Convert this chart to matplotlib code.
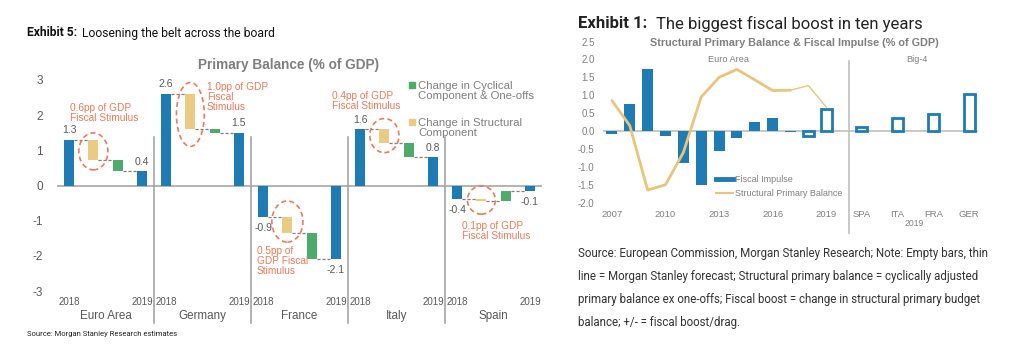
import matplotlib
matplotlib.use("Agg")
import matplotlib.pyplot as plt
from matplotlib.patches import Ellipse, Rectangle
from matplotlib.lines import Line2D

# ---------------- data: Exhibit 5 ----------------
groups = ["Euro Area", "Germany", "France", "Italy", "Spain"]
pb_2018 = [1.3, 2.6, -0.9, 1.6, -0.38]
structural_change = [-0.58, -1.0, -0.45, -0.4, -0.07]
cyclical_change = [-0.3, -0.1, -0.75, -0.4, 0.3]
pb_2019 = [0.4, 1.5, -2.1, 0.8, -0.15]
label_2018 = ["1.3", "2.6", "-0.9", "1.6", "-0.4"]
label_2019 = ["0.4", "1.5", "-2.1", "0.8", "-0.1"]
stimulus_text = ["0.6pp of GDP\nFiscal Stimulus", "1.0pp of GDP\nFiscal\nStimulus",
                 "0.5pp of\nGDP Fiscal\nStimulus", "0.4pp of GDP\nFiscal Stimulus",
                 "0.1pp of GDP\nFiscal Stimulus"]
left_yticks = [3, 2, 1, 0, -1, -2, -3]

# ---------------- data: Exhibit 1 ----------------
years = [2007, 2008, 2009, 2010, 2011, 2012, 2013, 2014, 2015, 2016, 2017, 2018, 2019]
fiscal_impulse = [-0.07, 0.75, 1.72, -0.15, -0.9, -1.5, -0.55, -0.2, 0.24, 0.35, -0.02, -0.13, 0.62]
forecast_year = [False] * 11 + [True, True]
structural_pb = [0.85, 0.15, -1.65, -1.5, -0.6, 0.95, 1.5, 1.72, 1.43, 1.13, 1.14, 1.27, 0.67]
countries = ["SPA", "ITA", "FRA", "GER"]
country_impulse = [0.12, 0.37, 0.47, 1.02]
year_ticks = [2007, 2010, 2013, 2016, 2019]
right_yticks = [2.5, 2.0, 1.5, 1.0, 0.5, 0.0, -0.5, -1.0, -1.5, -2.0]

BLUE = "#1f7bb3"
YELLOW = "#e9cb84"
GREEN = "#4dac6c"
ORANGE = "#ef7a58"
GREY = "#7f7f7f"
DGREY = "#595959"
LINEY = "#e8c57a"
ARIAL = "Liberation Sans"
ROBOTO = "Roboto"

W, H = 1032, 360
fig = plt.figure(figsize=(W / 100, H / 100), dpi=100)
fig.patch.set_facecolor("white")


def fx(x):
    return x / W


def fy(y):
    return 1 - y / H


def title_pair(x, y, bold_txt, reg_txt, size, gap_px, color):
    t1 = fig.text(fx(x), fy(y), bold_txt, ha="left", va="center", fontsize=size,
                  fontweight="bold", color=color, family=ROBOTO)
    r = fig.canvas.get_renderer()
    bb = t1.get_window_extent(renderer=r)
    fig.text(fx(bb.x1 + gap_px), fy(y), reg_txt, ha="left", va="center", fontsize=size,
             color=color, family=ROBOTO)


# ================= LEFT: Exhibit 5 =================
L0, L1, T0, T1 = 57, 542, 80, 291
axL = fig.add_axes([fx(L0), fy(T1), (L1 - L0) / W, (T1 - T0) / H])
axL.set_xlim(0, 20)
axL.set_ylim(-3, 3)
for s in axL.spines.values():
    s.set_visible(False)
axL.set_xticks([])
axL.set_yticks(left_yticks)
axL.set_yticklabels([str(t) for t in left_yticks], fontsize=8.5, color=DGREY, family=ARIAL)
axL.tick_params(axis="y", length=0, pad=10)
axL.axhline(0, color="#a6a6a6", lw=1.2, zorder=1)

bw = 0.42
ell_size = [(1.2, 1.05), (1.15, 1.82), (1.28, 1.17), (1.2, 0.97), (1.15, 0.8)]
ell_dy = [-0.04, -0.08, 0.1, 0.02, 0.0]
for g in range(len(groups)):
    x0 = 4 * g
    a = pb_2018[g]
    b = a + structural_change[g]
    c = b + cyclical_change[g]
    d = pb_2019[g]
    axL.bar(x0 + 0.5, a, width=bw, color=BLUE, zorder=3)
    axL.bar(x0 + 1.5, b - a, bottom=a, width=bw, color=YELLOW, zorder=3)
    axL.bar(x0 + 2.5, c - b, bottom=b, width=bw, color=GREEN, zorder=3)
    axL.bar(x0 + 3.5, d, width=bw, color=BLUE, zorder=3)
    # connectors
    for (xa, xb, yv) in [(x0 + 0.5, x0 + 1.5, a), (x0 + 1.5, x0 + 2.5, b), (x0 + 2.5, x0 + 3.5, c)]:
        axL.plot([xa + bw / 2, xb - bw / 2], [yv, yv], color=GREY, lw=0.9,
                 ls=(0, (2.5, 1.5)), zorder=2)
    # value labels
    off_a = 7 if a >= 0 else -8
    axL.annotate(label_2018[g], (x0 + 0.5, a), xytext=(0, off_a), textcoords="offset points",
                 ha="center", va="center", fontsize=7.5, color=DGREY, family=ARIAL)
    off_d = 7 if d >= 0 else -8
    axL.annotate(label_2019[g], (x0 + 3.5, d), xytext=(0, off_d), textcoords="offset points",
                 ha="center", va="center", fontsize=7.5, color=DGREY, family=ARIAL)
    # ellipse
    ew, eh = ell_size[g]
    axL.add_patch(Ellipse((x0 + 1.5, (a + b) / 2 + ell_dy[g]), ew, eh, fill=False,
                          edgecolor=ORANGE, lw=1.2, ls=(0, (3, 2)), zorder=4))
    # axis category labels
    tr = axL.get_xaxis_transform()
    axL.text(x0 + 0.05, (T1 - 302) / (T1 - T0), "2018", transform=tr, ha="left", va="center",
             fontsize=7, color=DGREY, family=ARIAL)
    axL.text(x0 + 3.95, (T1 - 302) / (T1 - T0), "2019", transform=tr, ha="right", va="center",
             fontsize=7, color=DGREY, family=ARIAL)
    axL.text(x0 + 2, (T1 - 316) / (T1 - T0), groups[g], transform=tr, ha="center", va="center",
             fontsize=8.4, color=DGREY, family=ARIAL)
    if g > 0:
        axL.plot([x0, x0], [(T1 - 323) / (T1 - T0), (T1 - 137) / (T1 - T0)], transform=tr,
                 color="#a6a6a6", lw=1.2, clip_on=False, zorder=1)

# stimulus annotations
stim_pos = [(70, 113), (207, 97), (257, 261), (332, 101), (462, 231)]
for t, (px_, py_) in zip(stimulus_text, stim_pos):
    fig.text(fx(px_), fy(py_), t, ha="left", va="center", fontsize=7.3, color=ORANGE,
             family=ARIAL, linespacing=1.05)

fig.text(fx(288), fy(65), "Primary Balance (% of GDP)", ha="center", va="center",
         fontsize=9.8, fontweight="bold", color=GREY, family=ARIAL)

# legend
fig.patches.append(Rectangle((fx(409), fy(88)), 6 / W, 6 / H, transform=fig.transFigure,
                             color=GREEN, figure=fig))
fig.text(fx(418), fy(91), "Change in Cyclical\nComponent & One-offs", ha="left", va="center",
         fontsize=8.2, color=GREY, family=ARIAL, linespacing=1.05)
fig.patches.append(Rectangle((fx(409), fy(125)), 6 / W, 6 / H, transform=fig.transFigure,
                             color=YELLOW, figure=fig))
fig.text(fx(418), fy(128), "Change in Structural\nComponent", ha="left", va="center",
         fontsize=8.2, color=GREY, family=ARIAL, linespacing=1.05)

title_pair(27, 33, "Exhibit 5:", "Loosening the belt across the board", 8.7, 5, "#111111")
fig.text(fx(27), fy(334), "Source: Morgan Stanley Research estimates", ha="left", va="center",
         fontsize=5.5, color="#222222", family=ROBOTO)

# ================= RIGHT: Exhibit 1 =================
R0, R1, U0, U1 = 603, 978, 41.5, 202.6
axR = fig.add_axes([fx(R0), fy(U1), (R1 - R0) / W, (U1 - U0) / H])
axR.set_xlim(-0.5, 20.5)
axR.set_ylim(-2.0, 2.5)
for s in axR.spines.values():
    s.set_visible(False)
axR.set_yticks(right_yticks)
axR.set_yticklabels([f"{t:.1f}" for t in right_yticks], fontsize=7, color=GREY, family=ARIAL)
axR.tick_params(axis="y", length=0, pad=6)
xpos = list(range(len(years)))
cpos = [14 + 2 * i for i in range(len(countries))]
axR.set_xticks([years.index(y) for y in year_ticks] + cpos)
axR.set_xticklabels([str(y) for y in year_ticks] + countries, fontsize=6.8, color=GREY,
                    family=ARIAL)
axR.tick_params(axis="x", length=0, pad=5)
axR.axhline(0, color="#bfbfbf", lw=1.2, zorder=1)

rbw = 0.62
for x, v, f in zip(xpos, fiscal_impulse, forecast_year):
    if f:
        axR.bar(x, v, width=rbw, facecolor="white", edgecolor=BLUE, lw=2, zorder=3)
    else:
        axR.bar(x, v, width=rbw, color=BLUE, zorder=3)
for x, v in zip(cpos, country_impulse):
    axR.bar(x, v, width=rbw, facecolor="white", edgecolor=BLUE, lw=2, zorder=3)

axR.plot(xpos[:11], structural_pb[:11], color=LINEY, lw=2, zorder=4, solid_capstyle="round")
axR.plot(xpos[10:], structural_pb[10:], color=LINEY, lw=1, zorder=4)

axR.plot([13.25, 13.25], [-0.19, 0.88], transform=axR.get_xaxis_transform(), color="#bfbfbf",
         lw=1.2, clip_on=False, zorder=1)

fig.text(fx(728), fy(60), "Euro Area", ha="center", va="center", fontsize=6.6, color=GREY,
         family=ARIAL)
fig.text(fx(917), fy(60), "Big-4", ha="center", va="center", fontsize=6.6, color=GREY,
         family=ARIAL)
fig.text(fx(914), fy(224), "2019", ha="center", va="center", fontsize=6.2, color=GREY,
         family=ARIAL)
fig.text(fx(794), fy(43), "Structural Primary Balance & Fiscal Impulse (% of GDP)", ha="center",
         va="center", fontsize=7.8, fontweight="bold", color=GREY, family=ARIAL)

# legend
fig.add_artist(Line2D([fx(716), fx(733)], [fy(179), fy(179)], color=BLUE, lw=3.5))
fig.text(fx(735), fy(179), "Fiscal Impulse", ha="left", va="center", fontsize=6.5, color=GREY,
         family=ARIAL)
fig.add_artist(Line2D([fx(716), fx(733)], [fy(193), fy(193)], color=LINEY, lw=1.5))
fig.text(fx(735), fy(193), "Structural Primary Balance", ha="left", va="center", fontsize=6.5,
         color=GREY, family=ARIAL)

title_pair(578, 24, "Exhibit 1:", "The biggest fiscal boost in ten years", 12, 9, "#222222")

src_lines = ["Source: European Commission, Morgan Stanley Research; Note: Empty bars, thin",
             "line = Morgan Stanley forecast; Structural primary balance = cyclically adjusted",
             "primary balance ex one-offs; Fiscal boost = change in structural primary budget",
             "balance; +/- = fiscal boost/drag."]
for i, t in enumerate(src_lines):
    fig.text(fx(578), fy(253 + 23.3 * i), t, ha="left", va="center", fontsize=8.3,
             color="#333333", family=ROBOTO)

fig.savefig("out.png", dpi=100, facecolor="white")
